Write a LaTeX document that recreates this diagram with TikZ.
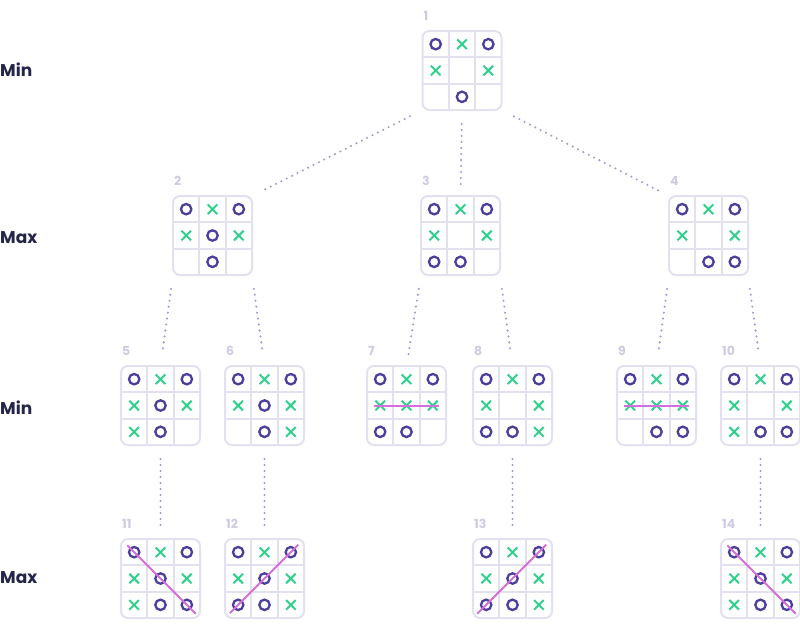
\documentclass[tikz,border=0pt]{standalone}
\usepackage{fontspec}
\setmainfont{Poppins}
\usetikzlibrary{calc}
\definecolor{ocol}{HTML}{4B3F9E}
\definecolor{xcol}{HTML}{2FD08C}
\definecolor{gridcol}{HTML}{E3E1EF}
\definecolor{dotcol}{HTML}{9F9BCC}
\definecolor{numcol}{HTML}{CDCBE2}
\definecolor{levcol}{HTML}{25254A}
\definecolor{wincol}{HTML}{D56FD8}
\newcommand{\tttboard}[4]{%
  \node[boardbox] (#1) at (#2) {};
  \node[numlabel] (#1n) at ($(#1.north west)+(1,-11)$) {#3};
  \foreach \k in {1,2} {
    \draw[gridline] ($(#1.north west)+(26.33*\k,0)$) -- ($(#1.south west)+(26.33*\k,0)$);
    \draw[gridline] ($(#1.north west)+(0,26.33*\k)$) -- ($(#1.north east)+(0,26.33*\k)$);
  }
  \foreach \m [count=\i from 0] in {#4} {
    \pgfmathtruncatemacro\cx{mod(\i,3)}
    \pgfmathtruncatemacro\cy{div(\i,3)}
    \coordinate (c) at ($(#1.north west)+(13.17+26.33*\cx,13.17+26.33*\cy)$);
    \if\m o \draw[omark] (c) circle (5.2);\fi
    \if\m x \draw[xmark,shift={(c)}] (-4.8,-4.8) -- (4.8,4.8) (-4.8,4.8) -- (4.8,-4.8);\fi
  }
}
\begin{document}
\begin{tikzpicture}[x=1pt, y=-1pt,
    boardbox/.style={draw=gridcol, line width=2pt, rounded corners=7pt, minimum size=79pt, inner sep=0pt, outer sep=0pt},
    gridline/.style={draw=gridcol, line width=2pt},
    omark/.style={draw=ocol, line width=2.3pt},
    xmark/.style={draw=xcol, line width=2pt},
    numlabel/.style={text=numcol, font=\bfseries\fontsize{12.5}{14}\selectfont, anchor=base west, inner sep=0pt},
    level/.style={text=levcol, font=\bfseries\fontsize{17}{20}\selectfont, anchor=west, inner sep=0pt},
    conn/.style={draw=dotcol, line width=2.3pt, dash pattern=on 0pt off 6pt, line cap=round, shorten <=14pt, shorten >=12pt},
    winline/.style={draw=wincol, line width=2pt}]
  \useasboundingbox (0,0) rectangle (800,630);

  \node[level] (lev1) at (0,70) {Min};
  \node[level] (lev2) at (0,238) {Max};
  \node[level] (lev3) at (0,408) {Min};
  \node[level] (lev4) at (0,578) {Max};

  \tttboard{b1}{462,70.5}{1}{o,x,o,x,e,x,e,o,e}
  \tttboard{b2}{212.5,235.5}{2}{o,x,o,x,o,x,e,o,e}
  \tttboard{b3}{460.5,235.5}{3}{o,x,o,x,e,x,o,o,e}
  \tttboard{b4}{708.5,235.5}{4}{o,x,o,x,e,x,e,o,o}
  \tttboard{b5}{160.5,405.5}{5}{o,x,o,x,o,x,x,o,e}
  \tttboard{b6}{264.5,405.5}{6}{o,x,o,x,o,x,e,o,x}
  \tttboard{b7}{406.5,405.5}{7}{o,x,o,x,x,x,o,o,e}
  \tttboard{b8}{512.5,405.5}{8}{o,x,o,x,e,x,o,o,x}
  \tttboard{b9}{656.5,405.5}{9}{o,x,o,x,x,x,e,o,o}
  \tttboard{b10}{760.5,405.5}{10}{o,x,o,x,e,x,x,o,o}
  \tttboard{b11}{160.5,578.5}{11}{o,x,o,x,o,x,x,o,o}
  \tttboard{b12}{264.5,578.5}{12}{o,x,o,x,o,x,o,o,x}
  \tttboard{b13}{512.5,578.5}{13}{o,x,o,x,o,x,o,o,x}
  \tttboard{b14}{760.5,578.5}{14}{o,x,o,x,o,x,x,o,o}

  \draw[winline] ($(b7.west)+(7,0)$) -- ($(b7.east)+(-7,0)$);
  \draw[winline] ($(b9.west)+(7,0)$) -- ($(b9.east)+(-7,0)$);
  \draw[winline, shorten <=9pt, shorten >=6pt] (b11.north west) -- (b11.south east);
  \draw[winline, shorten <=7pt, shorten >=8pt] (b12.south west) -- (b12.north east);
  \draw[winline, shorten <=6pt, shorten >=8pt] (b13.south west) -- (b13.north east);
  \draw[winline, shorten <=9pt, shorten >=6pt] (b14.north west) -- (b14.south east);

  \draw[conn] (b1.south west) -- (b2.north east);
  \draw[conn] (b1.south) -- (b3.north);
  \draw[conn] (b1.south east) -- (b4.north west);
  \draw[conn] (b2.south west) -- (b5.north);
  \draw[conn] (b2.south east) -- (b6.north);
  \draw[conn] (b3.south west) -- (b7.north);
  \draw[conn] (b3.south east) -- (b8.north);
  \draw[conn] (b4.south west) -- (b9.north);
  \draw[conn] (b4.south east) -- (b10.north);
  \draw[conn] (b5.south) -- (b11.north);
  \draw[conn] (b6.south) -- (b12.north);
  \draw[conn] (b8.south) -- (b13.north);
  \draw[conn] (b10.south) -- (b14.north);
\end{tikzpicture}
\end{document}
